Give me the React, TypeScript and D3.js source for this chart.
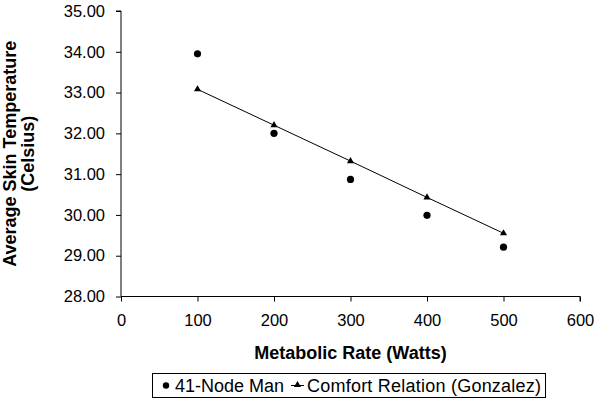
import React, { useEffect, useRef } from "react";
import * as d3 from "d3";

const metabolicRate = [100, 200, 300, 400, 500];
const nodeManTemp = [33.95, 32.0, 30.87, 29.99, 29.21];
const comfortTemp = [33.08, 32.2, 31.32, 30.43, 29.55];
const xTicks = [0, 100, 200, 300, 400, 500, 600];
const yTicks = [28, 29, 30, 31, 32, 33, 34, 35];
const seriesNames = ["41-Node Man", "Comfort Relation (Gonzalez)"];

const W = 606;
const H = 400;
const FONT = "'Liberation Sans', Arial, sans-serif";
const TICK_FS = 16.5;
const TITLE_FS = 18;
const LEGEND_FS = 18;

export default function App() {
  const ref = useRef<SVGSVGElement>(null);

  useEffect(() => {
    const svg = d3.select(ref.current);
    svg.selectAll("*").remove();

    const x = d3.scaleLinear().domain([0, 600]).range([121, 580]);
    const y = d3.scaleLinear().domain([28, 35]).range([296.5, 11]);

    const g = svg.append("g");

    // axes
    const yAxis = d3
      .axisLeft(y)
      .tickValues(yTicks)
      .tickSize(5)
      .tickPadding(11)
      .tickFormat((d) => d3.format(".2f")(d as number));
    const ya = g.append("g").attr("transform", `translate(${x(0)},0)`).call(yAxis);
    ya.select(".domain").attr("stroke", "#000").attr("d", `M-5,${y(35)}H0V${y(28)}`);
    ya.selectAll("text").attr("font-family", FONT).attr("font-size", TICK_FS).attr("fill", "#000");

    const xAxis = d3.axisBottom(x).tickValues(xTicks).tickSize(5).tickPadding(13);
    const xa = g.append("g").attr("transform", `translate(0,${y(28)})`).call(xAxis);
    xa.select(".domain").attr("stroke", "#000").attr("d", `M${x(0)},0H${x(600)}V5`);
    xa.selectAll("text").attr("font-family", FONT).attr("font-size", TICK_FS).attr("fill", "#000");

    // line
    const line = d3
      .line<number>()
      .x((_, i) => x(metabolicRate[i]))
      .y((d) => y(d));
    g.append("path")
      .datum(comfortTemp)
      .attr("d", line)
      .attr("fill", "none")
      .attr("stroke", "#000")
      .attr("stroke-width", 1);

    const tri = d3.symbol().type(d3.symbolTriangle).size(22);
    g.selectAll(".tri")
      .data(comfortTemp)
      .enter()
      .append("path")
      .attr("d", tri)
      .attr("transform", (d, i) => `translate(${x(metabolicRate[i])},${y(d)})`)
      .attr("fill", "#000");

    g.selectAll(".dot")
      .data(nodeManTemp)
      .enter()
      .append("circle")
      .attr("cx", (_, i) => x(metabolicRate[i]))
      .attr("cy", (d) => y(d))
      .attr("r", 3.6)
      .attr("fill", "#000");

    // axis titles
    g.append("text")
      .attr("x", (x(0) + x(600)) / 2)
      .attr("y", 359)
      .attr("text-anchor", "middle")
      .attr("font-family", FONT)
      .attr("font-size", TITLE_FS)
      .attr("font-weight", "bold")
      .text("Metabolic Rate (Watts)");

    const yt = g
      .append("text")
      .attr("transform", `translate(0,${(y(28) + y(35)) / 2}) rotate(-90)`)
      .attr("text-anchor", "middle")
      .attr("font-family", FONT)
      .attr("font-size", TITLE_FS)
      .attr("font-weight", "bold");
    yt.append("tspan").attr("x", 0).attr("y", 16).text("Average Skin Temperature");
    yt.append("tspan").attr("x", 0).attr("y", 34).text("(Celsius)");

    // legend
    const lg = g.append("g");
    lg.append("rect")
      .attr("x", 152.5)
      .attr("y", 373.5)
      .attr("width", 393)
      .attr("height", 24)
      .attr("fill", "#fff")
      .attr("stroke", "#000");
    lg.append("circle").attr("cx", 166).attr("cy", 385.5).attr("r", 3.2).attr("fill", "#000");
    lg.append("text")
      .attr("x", 175)
      .attr("y", 391.5)
      .attr("font-family", FONT)
      .attr("font-size", LEGEND_FS)
      .text(seriesNames[0]);
    lg.append("line")
      .attr("x1", 291)
      .attr("x2", 304)
      .attr("y1", 385.5)
      .attr("y2", 385.5)
      .attr("stroke", "#000");
    lg.append("path").attr("d", tri).attr("transform", "translate(297.5,385)").attr("fill", "#000");
    lg.append("text")
      .attr("x", 307)
      .attr("y", 391.5)
      .attr("font-family", FONT)
      .attr("font-size", LEGEND_FS)
      .attr("textLength", 234)
      .attr("lengthAdjust", "spacing")
      .text(seriesNames[1]);
  }, []);

  return (
    <svg
      ref={ref}
      width={W}
      height={H}
      style={{ position: "absolute", left: 0, top: 0, background: "#fff" }}
    />
  );
}
